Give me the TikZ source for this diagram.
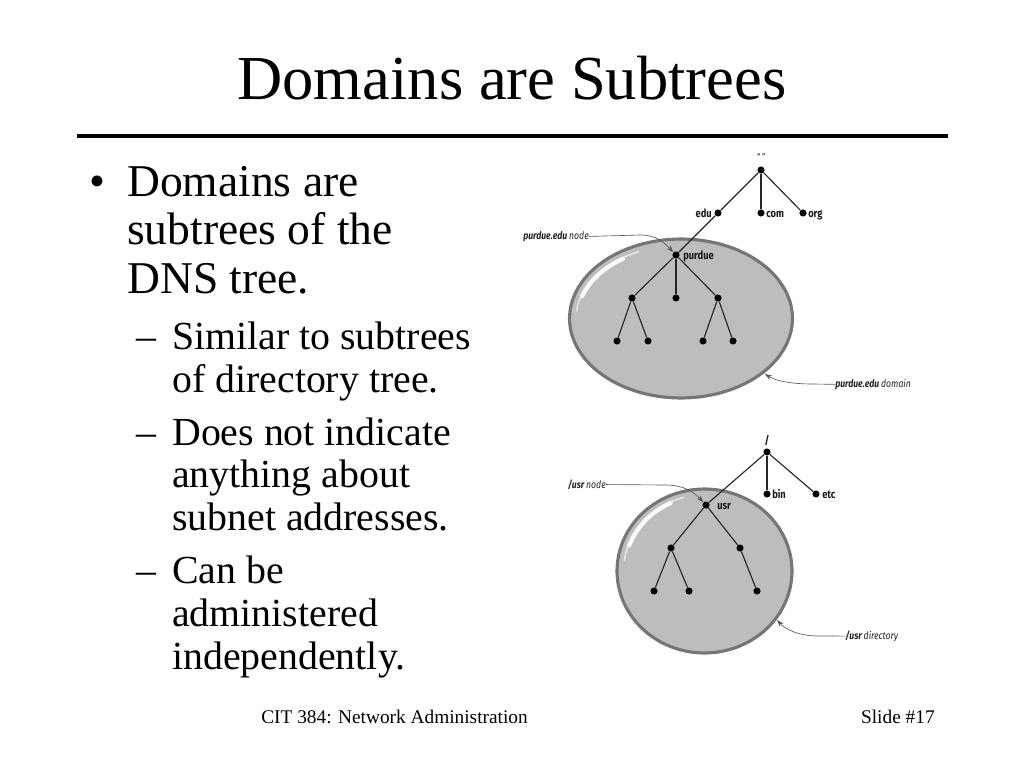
\documentclass[tikz,border=0pt]{standalone}
\usepackage{fontspec}
\setmainfont{Liberation Serif}
\newfontfamily\labfont[FakeStretch=0.82]{Fira Sans}
\usetikzlibrary{arrows.meta}
\definecolor{blobfill}{HTML}{BDBDBD}
\definecolor{blobedge}{HTML}{767676}
\begin{document}
\begin{tikzpicture}[x=0.703125pt,y=-0.703125pt,
  dot/.style={circle,fill=black,inner sep=0pt,minimum size=5pt},
  edge/.style={line width=0.8pt,draw=black!85},
  lab/.style={font=\labfont\fontsize{8}{9}\selectfont\bfseries,inner sep=0pt,text=black!90},
  call/.style={font=\labfont\fontsize{7.4}{9}\selectfont,inner sep=0pt,text=black!85},
  arr/.style={draw=black!65,line width=0.45pt,-{Stealth[length=5pt,width=3.5pt]}},
  title/.style={font=\fontsize{44}{50}\selectfont,anchor=base,inner sep=0pt},
  body/.style={font=\fontsize{32}{38}\selectfont,anchor=base west,inner sep=0pt},
  sub/.style={font=\fontsize{28}{34}\selectfont,anchor=base west,inner sep=0pt},
  foot/.style={font=\fontsize{13.6}{16}\selectfont,inner sep=0pt},
  blob/.style={fill=blobfill,draw=blobedge,line width=2.2pt},
  shine/.style={draw=white,line cap=round}
]
\useasboundingbox[fill=white] (0,0) rectangle (1024,768);

% title
\node[title] (ttl) at (512,100) {Domains are Subtrees};
\draw[line width=3.2pt] (77,136) -- (948,136);

% body text
\node[body] (b0) at (89,197) {\textbullet};
\node[body] (b1) at (127,197) {Domains are};
\node[body] (b2) at (127,245) {subtrees of the};
\node[body] (b3) at (127,294) {DNS tree.};
\node[sub] (s1d) at (136,349) {--};
\node[sub] (s1a) at (172,349) {Similar to subtrees};
\node[sub] (s1b) at (172,392) {of directory tree.};
\node[sub] (s2d) at (136,445) {--};
\node[sub] (s2a) at (172,445) {Does not indicate};
\node[sub] (s2b) at (172,487) {anything about};
\node[sub] (s2c) at (172,530) {subnet addresses.};
\node[sub] (s3d) at (136,583) {--};
\node[sub] (s3a) at (172,583) {Can be};
\node[sub] (s3b) at (172,626) {administered};
\node[sub] (s3c) at (172,669) {independently.};

% footer
\node[foot,anchor=base west] (f1) at (261,723) {CIT 384: Network Administration};
\node[foot,anchor=base east] (f2) at (935,723) {Slide \#17};

% ===== upper diagram: purdue.edu domain =====
\draw[blob] plot[smooth cycle,domain=0:350,samples=36] ({681+111.5*cos(\x)},{318.5+79.5*sin(\x)});
\draw[shine,line width=1.2pt,opacity=0.6] plot[smooth,domain=186:246,samples=16] ({681+105*cos(\x)},{318.5+73*sin(\x)});
\draw[shine,line width=3pt,opacity=0.9] plot[smooth,domain=198:236,samples=12] ({681+104*cos(\x)},{318.5+72*sin(\x)});

\node[dot] (root) at (761,170) {};
\node[dot] (edu) at (718,213) {};
\node[dot] (com) at (761,213) {};
\node[dot] (org) at (803,213) {};
\node[dot] (purdue) at (676,255) {};
\node[dot] (p1) at (632,298) {};
\node[dot] (p2) at (676,298) {};
\node[dot] (p3) at (718,298) {};
\node[dot] (l1) at (617,341) {};
\node[dot] (l2) at (648,341) {};
\node[dot] (l3) at (703,341) {};
\node[dot] (l4) at (733,341) {};

\draw[edge] (root) -- (edu) -- (purdue);
\draw[edge] (root) -- (com);
\draw[edge] (root) -- (org);
\draw[edge] (purdue) -- (p1);
\draw[edge] (purdue) -- (p2);
\draw[edge] (purdue) -- (p3);
\draw[edge] (p1) -- (l1);
\draw[edge] (p1) -- (l2);
\draw[edge] (p3) -- (l3);
\draw[edge] (p3) -- (l4);

\node[lab,font=\labfont\fontsize{6.5}{7}\selectfont\itshape] (rootl) at (761,157) {“ ”};
\node[lab,anchor=mid east] (edul) at (712,214) {edu};
\node[lab,anchor=mid west] (coml) at (766,214) {com};
\node[lab,anchor=mid west] (orgl) at (808,214) {org};
\node[lab,anchor=mid west] (purduel) at (683,256) {purdue};

\node[call,anchor=mid east] (pnode) at (589,236) {\bfseries\itshape purdue.edu \mdseries node};
\draw[arr] (pnode.east) -- (640,235) .. controls (656,235) and (664,242) .. (purdue.north west);

\coordinate (ptip) at (765,374);
\node[call,anchor=mid west] (pdom) at (835,384) {\bfseries\itshape purdue.edu \mdseries domain};
\draw[arr] (pdom.west) -- (812,384) .. controls (792,384) and (776,381) .. (ptip);

% ===== lower diagram: /usr directory =====
\draw[blob] plot[smooth cycle,domain=0:350,samples=36] ({704.5+87.5*cos(\x)},{571+82*sin(\x)});
\draw[shine,line width=1.2pt,opacity=0.6] plot[smooth,domain=188:255,samples=16] ({704.5+81*cos(\x)},{571+76*sin(\x)});
\draw[shine,line width=3pt,opacity=0.9] plot[smooth,domain=200:245,samples=12] ({704.5+80*cos(\x)},{571+75*sin(\x)});

\node[dot] (sroot) at (767,452) {};
\node[dot] (bin) at (767,494) {};
\node[dot] (etc) at (816,494) {};
\node[dot] (usr) at (706,505) {};
\node[dot] (u1) at (671,548) {};
\node[dot] (u2) at (740,548) {};
\node[dot] (m1) at (654,591) {};
\node[dot] (m2) at (689,591) {};
\node[dot] (m3) at (757,591) {};

\draw[edge] (sroot) -- (usr);
\draw[edge] (sroot) -- (bin);
\draw[edge] (sroot) -- (etc);
\draw[edge] (usr) -- (u1);
\draw[edge] (usr) -- (u2);
\draw[edge] (u1) -- (m1);
\draw[edge] (u1) -- (m2);
\draw[edge] (u2) -- (m3);

\node[lab] (srootl) at (767,440) {/};
\node[lab,anchor=mid west] (binl) at (772,495) {bin};
\node[lab,anchor=mid west] (etcl) at (822,495) {etc};
\node[lab,anchor=mid west] (usrl) at (717,506) {usr};

\node[call,anchor=mid east] (unode) at (606,485) {\bfseries\itshape /usr \mdseries node};
\draw[arr] (unode.east) -- (665,485) .. controls (684,485) and (694,492) .. (usr.north west);

\coordinate (utip) at (777,620);
\node[call,anchor=mid west] (udir) at (845,636) {\bfseries\itshape /usr \mdseries directory};
\draw[arr] (udir.west) -- (818,636) .. controls (800,636) and (786,630) .. (utip);
\end{tikzpicture}
\end{document}
